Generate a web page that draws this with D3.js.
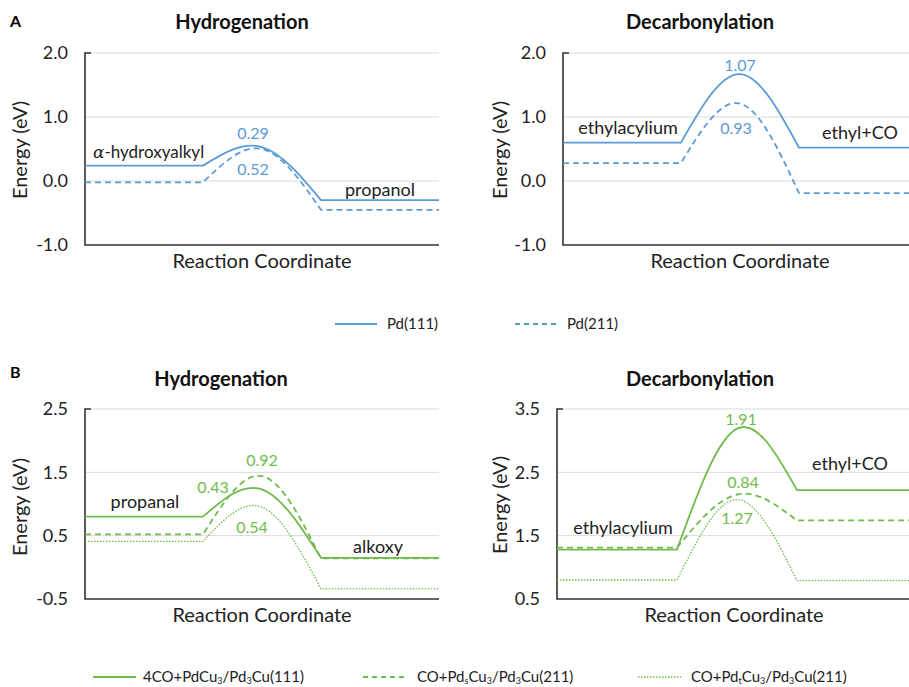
<!DOCTYPE html>
<html>
<head>
<meta charset="utf-8">
<script src="https://cdn.jsdelivr.net/npm/d3@7"></script>
<style>
  body { margin: 0; background: #fff; }
  svg { display: block; font-family: Lato, "Open Sans", sans-serif; }
</style>
</head>
<body>
<svg width="909" height="687"></svg>
<script>
// reaction coordinate stages: initial, start of rise, TS, end of descent, final
const coord = [0, 1, 1.5, 2, 3];

// energies [initial, TS, final] in eV
const pd111Hyd = [0.24, 0.53, -0.30];
const pd211Hyd = [-0.02, 0.50, -0.45];
const pd111Dec = [0.60, 1.67, 0.52];
const pd211Dec = [0.28, 1.21, -0.19];

const co4Hyd = [0.80, 1.23, 0.15];
const cosHyd = [0.52, 1.44, 0.14];
const cotHyd = [0.41, 0.95, -0.34];
const co4Dec = [1.28, 3.19, 2.22];
const cosDec = [1.31, 2.15, 1.74];
const cotDec = [0.80, 2.07, 0.79];

const ticksA = [-1, 0, 1, 2];
const ticksBH = [-0.5, 0.5, 1.5, 2.5];
const ticksBD = [0.5, 1.5, 2.5, 3.5];

const blue = "#5b9bd5";
const green = "#6fbb4c";

const svg = d3.select("svg");

//每个面板的布局
const panels = [
  { x0: 85, w: 354, y0: 53, y1: 245, dom: [-1, 2], ticks: ticksA, title: "Hydrogenation", tx: 242, ty: 29,
    ylx: 20, yly: 150, series: [[pd111Hyd, blue, null], [pd211Hyd, blue, "6,4"]] },
  { x0: 563, w: 354, y0: 53, y1: 245, dom: [-1, 2], ticks: ticksA, title: "Decarbonylation", tx: 700, ty: 29,
    ylx: 500, yly: 150, series: [[pd111Dec, blue, null], [pd211Dec, blue, "6,4"]] },
  { x0: 85, w: 354, y0: 409, y1: 599, dom: [-0.5, 2.5], ticks: ticksBH, title: "Hydrogenation", tx: 221, ty: 386,
    ylx: 20, yly: 507, series: [[co4Hyd, green, null], [cosHyd, green, "6,4"], [cotHyd, green, "1.5,1.5"]] },
  { x0: 557, w: 360, y0: 409, y1: 599, dom: [0.5, 3.5], ticks: ticksBD, title: "Decarbonylation", tx: 700, ty: 386,
    ylx: 500, yly: 505, series: [[co4Dec, green, null], [cosDec, green, "6,4"], [cotDec, green, "1.5,1.5"]] }
];

function energyPath(e, x, y) {
  const pts = [e[0], e[0], e[1], e[2], e[2]].map((v, i) => [x(coord[i]), y(v)]);
  const mid = d3.line().curve(d3.curveNatural)(pts.slice(1, 4));
  return `M${pts[0]}L${pts[1]}` + mid.replace(/^M[^C]*/, "") + `L${pts[4]}`;
}

panels.forEach(p => {
  const x = d3.scaleLinear().domain([0, 3]).range([p.x0, p.x0 + p.w]);
  const y = d3.scaleLinear().domain(p.dom).range([p.y1, p.y0]);
  const g = svg.append("g");

  // gridlines
  g.selectAll(".grid").data(p.ticks.slice(1)).enter().append("line")
    .attr("x1", p.x0).attr("x2", p.x0 + p.w)
    .attr("y1", d => y(d)).attr("y2", d => y(d))
    .attr("stroke", "#d9d9d9").attr("stroke-width", 1);

  const ax = g.append("g").attr("transform", `translate(${p.x0},0)`)
    .call(d3.axisLeft(y).tickValues(p.ticks).tickSize(0).tickPadding(17).tickFormat(d => d.toFixed(1)));
  ax.select(".domain").remove();
  ax.selectAll("text").attr("font-size", 18).attr("fill", "#222").attr("font-family", "Lato, sans-serif");

  // axis lines
  g.append("path")
    .attr("d", `M${p.x0 + 6},${p.y0}H${p.x0}V${p.y1}H${p.x0 + p.w}`)
    .attr("fill", "none").attr("stroke", "#333").attr("stroke-width", 1.6);

  p.series.forEach(([e, c, dash]) => {
    g.append("path").attr("d", energyPath(e, x, y))
      .attr("fill", "none").attr("stroke", c).attr("stroke-width", dash === "1.5,1.5" ? 1.3 : 1.8)
      .attr("stroke-dasharray", dash);
  });

  g.append("text").attr("x", p.tx).attr("y", p.ty).attr("text-anchor", "middle")
    .attr("font-weight", "bold").attr("font-size", 20).attr("fill", "#111").text(p.title);
  g.append("text").attr("x", p.x0 + 177).attr("y", p.y1 + 23).attr("text-anchor", "middle")
    .attr("font-size", 20).attr("fill", "#222").text("Reaction Coordinate");
  g.append("text").attr("transform", `translate(${p.ylx},${p.yly}) rotate(-90)`).attr("dy", "0.35em")
    .attr("text-anchor", "middle").attr("font-size", 20).attr("fill", "#222").text("Energy (eV)");
});

svg.append("text").attr("x", 10).attr("y", 27).attr("font-weight", "bold").attr("font-size", 16).text("A");
svg.append("text").attr("x", 10).attr("y", 378).attr("font-weight", "bold").attr("font-size", 16).text("B");

// barrier labels [panel, text, x, y, colour]
const barrierLabels = [
  [0, "0.29", 253, 133, blue], [0, "0.52", 253, 169, blue],
  [1, "1.07", 740, 65, blue], [1, "0.93", 736, 128, blue],
  [2, "0.92", 262, 460, green], [2, "0.43", 213, 487, green], [2, "0.54", 252, 527, green],
  [3, "1.91", 741, 419, green], [3, "0.84", 743, 482, green], [3, "1.27", 737, 518, green]
];
svg.selectAll(".barrier").data(barrierLabels).enter().append("text")
  .attr("x", d => d[2]).attr("y", d => d[3]).attr("dy", "0.35em").attr("text-anchor", "middle")
  .attr("font-size", 16).attr("fill", d => d[4]).text(d => d[1]);

// species labels
const speciesLabels = [
  ["propanol", 380, 190], ["ethylacylium", 628, 128], ["ethyl+CO", 860, 133],
  ["propanal", 145, 502], ["alkoxy", 378, 547], ["ethylacylium", 623, 528], ["ethyl+CO", 850, 464]
];
svg.selectAll(".species").data(speciesLabels).enter().append("text")
  .attr("x", d => d[1]).attr("y", d => d[2]).attr("dy", "0.35em").attr("text-anchor", "middle")
  .attr("font-size", 18).attr("fill", "#222").text(d => d[0]);
const ah = svg.append("text").attr("x", 93).attr("y", 152).attr("dy", "0.35em")
  .attr("font-size", 17).attr("fill", "#222");
ah.append("tspan").attr("font-style", "italic").attr("font-family", "DejaVu Serif, serif").text("α");
ah.append("tspan").text("-hydroxyalkyl");

// legends
const legendA = [["Pd(111)", null, 335, 387], ["Pd(211)", "5,4", 515, 567]];
legendA.forEach(([t, dash, lx, tx]) => {
  svg.append("line").attr("x1", lx).attr("x2", lx + 42).attr("y1", 324).attr("y2", 324)
    .attr("stroke", blue).attr("stroke-width", 1.8).attr("stroke-dasharray", dash);
  svg.append("text").attr("x", tx).attr("y", 324).attr("dy", "0.35em").attr("font-size", 15)
    .attr("fill", "#222").text(t);
});

const legendB = [
  [[["4CO+PdCu"], ["3", 1], ["/Pd"], ["3", 1], ["Cu(111)"]], null, 93, 143],
  [[["CO+Pd"], ["s", 1], ["Cu"], ["3", 1], ["/Pd"], ["3", 1], ["Cu(211)"]], "5,4", 363, 417],
  [[["CO+Pd"], ["t", 1], ["Cu"], ["3", 1], ["/Pd"], ["3", 1], ["Cu(211)"]], "1.5,1.5", 638, 691]
];
legendB.forEach(([parts, dash, lx, tx]) => {
  svg.append("line").attr("x1", lx).attr("x2", lx + 43).attr("y1", 677).attr("y2", 677)
    .attr("stroke", green).attr("stroke-width", dash === "1.5,1.5" ? 1.3 : 1.8).attr("stroke-dasharray", dash);
  const t = svg.append("text").attr("x", tx).attr("y", 682).attr("font-size", 15)
    .attr("fill", "#222");
  parts.forEach(([s, sub]) => {
    const ts = t.append("tspan").text(s);
    if (sub) ts.attr("font-size", 9).attr("baseline-shift", "-2");
  });
});
</script>
</body>
</html>
